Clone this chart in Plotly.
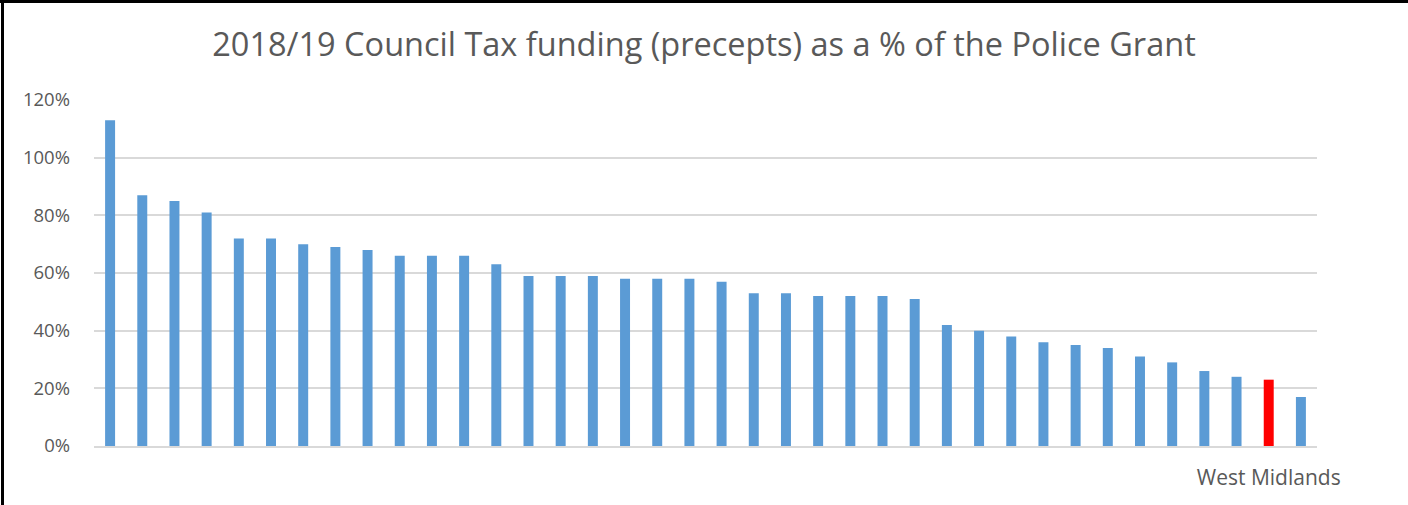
import plotly.graph_objects as go

# Data (values in %)
force_index = list(range(1, 39))
precept_pct = [113, 87, 85, 81, 72, 72, 70, 69, 68, 66, 66, 66, 63, 59, 59, 59, 58, 58, 58, 57,
               53, 53, 52, 52, 52, 51, 42, 40, 38, 36, 35, 34, 31, 29, 26, 24, 23, 17]
highlight_index = 37
highlight_label = "West Midlands"
y_ticks = [0, 20, 40, 60, 80, 100, 120]
y_tick_labels = [f"{v}%" for v in y_ticks]

BLUE = "#5B9BD5"
RED = "#FF0000"
TEXT = "#595959"
GRID = "#D9D9D9"

colors = [RED if i == highlight_index else BLUE for i in force_index]

W, H = 1408, 505
ML, MR, MT, MB = 94, 91, 100, 59

fig = go.Figure(go.Bar(
    x=force_index,
    y=precept_pct,
    marker=dict(color=colors, line=dict(width=0)),
    hoverinfo="x+y",
))

pw = W - ML - MR
ph = H - MT - MB

fig.update_layout(
    width=W, height=H,
    margin=dict(l=ML, r=MR, t=MT, b=MB, pad=0),
    paper_bgcolor="white",
    plot_bgcolor="white",
    bargap=0.69,
    showlegend=False,
    font=dict(family="Open Sans", color=TEXT, size=18),
    title=dict(
        text="2018/19 Council Tax funding (precepts) as a % of the Police Grant",
        x=0.5, xanchor="center",
        y=1 - 45 / H, yanchor="middle",
        font=dict(family="Open Sans", size=32.5, color=TEXT),
    ),
    xaxis=dict(
        range=[0.5, 38.5],
        tickmode="array",
        tickvals=[highlight_index],
        ticktext=[highlight_label],
        showgrid=False,
        zeroline=False,
        showline=True, linecolor=GRID, linewidth=2,
        ticks="", ticklabelstandoff=12,
        tickfont=dict(size=21, color=TEXT),
    ),
    yaxis=dict(
        range=[0, 120],
        tickmode="array",
        tickvals=y_ticks,
        ticktext=y_tick_labels,
        showgrid=True, gridcolor=GRID, gridwidth=2,
        zeroline=False,
        showline=False,
        ticks="", ticklabelstandoff=23,
        tickfont=dict(size=18.5, color=TEXT),
    ),
    shapes=[
        # outer frame (top and left edges visible in the reference)
        dict(type="rect", xref="paper", yref="paper",
             x0=(0 - ML) / pw, x1=(W - ML) / pw,
             y0=(H - MB - 3) / ph, y1=(H - MB) / ph,
             line=dict(width=0), fillcolor="black"),
        dict(type="rect", xref="paper", yref="paper",
             x0=(1 - ML) / pw, x1=(4 - ML) / pw,
             y0=(0 - MB) / ph, y1=(H - MB) / ph,
             line=dict(width=0), fillcolor="black"),
    ],
)

fig.write_html(
    "out.html",
    config={"displayModeBar": False},
    post_script="document.body.style.margin='0';document.body.style.overflow='hidden';",
)
